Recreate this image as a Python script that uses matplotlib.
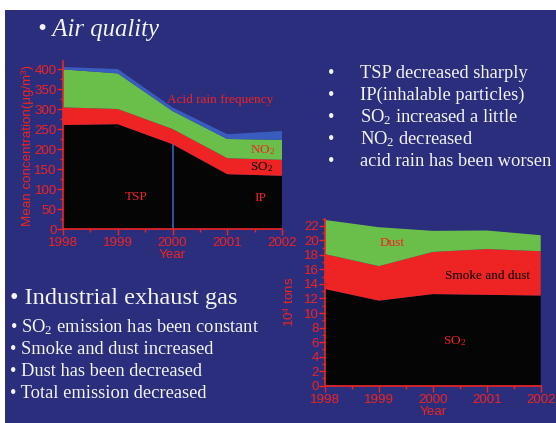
import matplotlib
matplotlib.use("Agg")
import matplotlib.pyplot as plt
from matplotlib.patches import Rectangle
from matplotlib.ticker import MultipleLocator

plt.rcParams['mathtext.fontset'] = 'custom'
plt.rcParams['mathtext.rm'] = 'Liberation Serif'
plt.rcParams['mathtext.it'] = 'Liberation Serif:italic'

# air quality (stacked layers, ug/m3)
years = [1998, 1999, 2000, 2001, 2002]
tsp_ip = [260, 262, 212, 137, 133]
so2_conc = [44, 38, 38, 40, 40]
no2_conc = [95, 89, 45, 48, 50]
acid_rain = [6, 11, 9, 12, 22]

# industrial exhaust gas (10^4 tons)
so2_emis = [13.3, 11.7, 12.6, 12.5, 12.4]
smoke_dust = [4.8, 4.75, 5.8, 6.3, 6.1]
dust = [4.7, 5.35, 2.9, 2.55, 2.2]

air_notes = ["TSP decreased sharply", "IP(inhalable particles)",
             "SO$_2$ increased a little", "NO$_2$ decreased",
             "acid rain has been worsen"]
gas_notes = ["SO$_2$ emission has been constant", "Smoke and dust increased",
             "Dust has been decreased", "Total emission decreased"]

BG = '#2a2e7c'
RED = '#ee2424'
BLACK = '#050505'
GREEN = '#6abf4b'
BLUE = '#3a5cbf'
SANS = ['Liberation Sans', 'DejaVu Sans']
SERIF = 'Liberation Serif'
TICK_FS = 9.6
NOTE_FS = 9.5

W, H = 556, 423
fig = plt.figure(figsize=(W / 100, H / 100), dpi=100)
fig.patch.set_facecolor('white')
fig.patches.append(Rectangle((5 / W, 0), 551 / W, 413 / H, transform=fig.transFigure,
                             facecolor=BG, edgecolor='none', zorder=-5))


def px_axes(x0, y0, x1, y1):
    return fig.add_axes([x0 / W, 1 - y1 / H, (x1 - x0) / W, (y1 - y0) / H])


def style_axes(ax):
    ax.set_facecolor('none')
    for s in ['top', 'right']:
        ax.spines[s].set_visible(False)
    for s in ['left', 'bottom']:
        ax.spines[s].set_color(RED)
        ax.spines[s].set_linewidth(1.2)
    ax.tick_params(which='both', colors=RED, direction='out', width=1.0)
    ax.tick_params(which='major', length=4, labelsize=TICK_FS)
    ax.tick_params(axis='x', which='major', pad=2)
    ax.tick_params(axis='y', which='major', pad=0.5)
    ax.tick_params(which='minor', length=2.5)
    for lab in ax.get_xticklabels() + ax.get_yticklabels():
        lab.set_family(SANS)
    ax.set_xlim(1998, 2002)
    ax.set_xticks(years)
    ax.xaxis.set_minor_locator(MultipleLocator(0.5))


# left chart: air quality
ax1 = px_axes(63, 61, 282, 229)
ax1.stackplot(years, tsp_ip, so2_conc, no2_conc, acid_rain,
              colors=[BLACK, RED, GREEN, BLUE], linewidth=0)
ax1.set_ylim(0, 420)
ax1.set_yticks(range(0, 401, 50))
ax1.yaxis.set_minor_locator(MultipleLocator(25))
style_axes(ax1)
ax1.vlines(2000, 0, tsp_ip[2], color=BLUE, linewidth=1.2)
ax1.set_xlabel("Year", color=RED, fontsize=TICK_FS, family=SANS, labelpad=0)
ax1.set_ylabel("Mean concentration(μg/m³)", color=RED, fontsize=TICK_FS,
               family=SANS, labelpad=0)
ax1.text(1999.9, 322, "Acid rain frequency", color=RED, fontsize=NOTE_FS,
         family=SERIF, va='center')
ax1.text(2001.42, 197, "NO$_2$", color=RED, fontsize=NOTE_FS, family=SERIF,
         va='center')
ax1.text(2001.42, 155, "SO$_2$", color=BLACK, fontsize=NOTE_FS, family=SERIF,
         va='center')
ax1.text(1999.33, 80, "TSP", color=RED, fontsize=NOTE_FS, family=SERIF,
         va='center', ha='center')
ax1.text(2001.6, 77, "IP", color=RED, fontsize=NOTE_FS, family=SERIF,
         va='center', ha='center')

# right chart: industrial exhaust gas
ax2 = px_axes(325, 218.5, 540.7, 385.7)
ax2.stackplot(years, so2_emis, smoke_dust, dust,
              colors=[BLACK, RED, GREEN], linewidth=0)
ax2.set_ylim(0, 23)
ax2.set_yticks(range(0, 23, 2))
ax2.yaxis.set_minor_locator(MultipleLocator(1))
style_axes(ax2)
ax2.set_xlabel("Year", color=RED, fontsize=TICK_FS, family=SANS, labelpad=0)
ax2.set_ylabel("10$^4$ tons", color=RED, fontsize=TICK_FS, family=SANS, labelpad=5)
ax2.text(1999.02, 19.6, "Dust", color=RED, fontsize=NOTE_FS, family=SERIF,
         va='center')
ax2.text(2000.23, 15.1, "Smoke and dust", color=BLACK, fontsize=NOTE_FS,
         family=SERIF, va='center')
ax2.text(2000.19, 6.2, "SO$_2$", color=RED, fontsize=NOTE_FS, family=SERIF,
         va='center')

# slide text
WHITE = '#f4f4f4'
fig.text(38 / W, 1 - 30 / H, "• Air quality", color=WHITE, fontsize=17.8,
         family=SERIF, style='italic', va='center')
for i, note in enumerate(air_notes):
    y = 1 - (73 + 22 * i) / H
    fig.text(328 / W, y, "•", color=WHITE, fontsize=13.3, family=SERIF, va='center')
    fig.text(360 / W, y, note, color=WHITE, fontsize=13.3, family=SERIF, va='center')
fig.text(10 / W, 1 - 298 / H, "• Industrial exhaust gas", color=WHITE, fontsize=17.6,
         family=SERIF, va='center')
for i, note in enumerate(gas_notes):
    y = 1 - (327 + 22 * i) / H
    fig.text(10 / W, y, "• " + note, color=WHITE, fontsize=13.3, family=SERIF,
             va='center')

fig.savefig("out.png", dpi=100)
